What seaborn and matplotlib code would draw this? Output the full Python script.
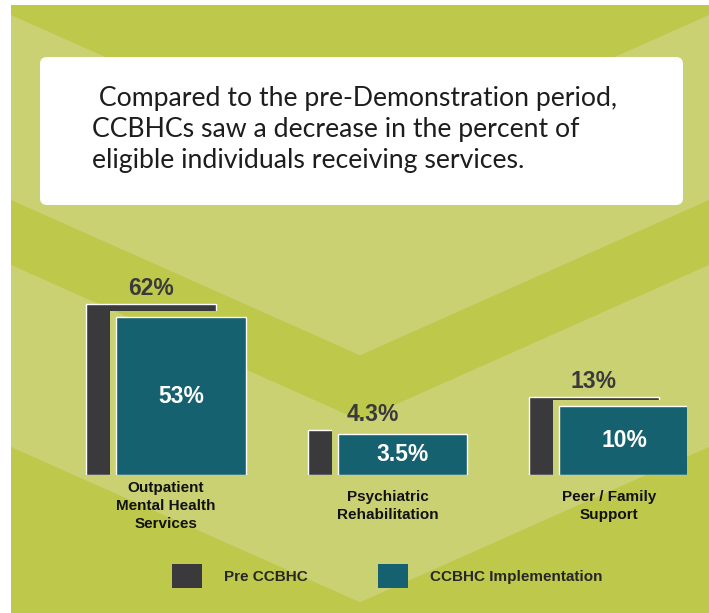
import numpy as np
import pandas as pd
import matplotlib
matplotlib.use("Agg")
import matplotlib.pyplot as plt
import seaborn as sns
from matplotlib.patches import Rectangle, Polygon, FancyBboxPatch, Patch

# ---- data -------------------------------------------------------------
categories = ["Outpatient\nMental Health\nServices",
              "Psychiatric\nRehabilitation",
              "Peer / Family\nSupport"]
pre_ccbhc = [62, 4.3, 13]
ccbhc_impl = [53, 3.5, 10]
pre_labels = ["62%", "4.3%", "13%"]
impl_labels = ["53%", "3.5%", "10%"]
series_names = ["Pre CCBHC", "CCBHC Implementation"]
headline = [" Compared to the pre-Demonstration period,",
            "CCBHCs saw a decrease in the percent of",
            "eligible individuals receiving services."]

# ---- style ------------------------------------------------------------
W, H, DPI = 709, 613, 100
DARK_GREEN = "#BEC84A"
LIGHT_GREEN = "#CAD172"
GRAY = "#3A3A3C"
TEAL = "#16616F"

sns.set_style("white")
plt.rcParams["font.family"] = ["Liberation Sans", "DejaVu Sans"]

fig = plt.figure(figsize=(W / DPI, H / DPI), dpi=DPI)
fig.patch.set_facecolor("white")

# background axes in pixel coordinates (origin top-left)
bg = fig.add_axes([0, 0, 1, 1])
bg.set_xlim(0, W)
bg.set_ylim(H, 0)
bg.axis("off")

PX0, PY0 = 11, 5          # green panel origin
CX = 360                  # chevron apex column
SLOPE = 0.445
HALF = CX - PX0
BANDS = [(15, 200), (265, 447)]   # light chevron bands (edge offsets at the sides)


def paint_background(ax, transform, zorder, clip=None):
    arts = [Rectangle((PX0, PY0), W - PX0, H - PY0, facecolor=DARK_GREEN,
                      edgecolor="none", transform=transform, zorder=zorder)]
    for top, bot in BANDS:
        pts = [(PX0, top), (CX, top + SLOPE * HALF), (W, top),
               (W, bot), (CX, bot + SLOPE * HALF), (PX0, bot)]
        arts.append(Polygon(pts, closed=True, facecolor=LIGHT_GREEN,
                            edgecolor="none", transform=transform, zorder=zorder))
    for a in arts:
        ax.add_patch(a)
        if clip is not None:
            a.set_clip_path(clip)


paint_background(bg, bg.transData, 0)

# headline card
bg.add_patch(FancyBboxPatch((40, 57), 643, 148,
                            boxstyle="round,pad=0,rounding_size=7",
                            facecolor="white", edgecolor="none", zorder=2))
for i, line in enumerate(headline):
    bg.text(92, 106 + 31 * i, line, fontsize=19.2, family=["Lato", "DejaVu Sans"],
            color="#1e1c1d", va="baseline", ha="left", zorder=3)

# ---- bars -------------------------------------------------------------
UNIT = 221.5              # pixels per category step
C0 = 166                  # pixel column of the first category
XMIN, XMAX = -0.5, 2.35
BASE = 475                # baseline row (from top)
YMAX = 100
K = 21.7                  # pixels per sqrt(percent)
ax_h = K * np.sqrt(YMAX)
ax = fig.add_axes([(C0 + XMIN * UNIT) / W, (H - BASE) / H,
                   (XMAX - XMIN) * UNIT / W, ax_h / H])
ax.set_facecolor("none")

BAR_W = 130 / UNIT
OFF = 15 / UNIT

df = pd.DataFrame({"category": categories, "pre": pre_ccbhc, "impl": ccbhc_impl})
sns.barplot(data=df, x="category", y="pre", color=GRAY, saturation=1,
            width=BAR_W, errorbar=None, ax=ax, zorder=1)
gray_bars = list(ax.patches)
for p in gray_bars:
    p.set_x(p.get_x() - OFF)
sns.barplot(data=df, x="category", y="impl", color=TEAL, saturation=1,
            width=BAR_W, errorbar=None, ax=ax, zorder=3)
teal_bars = list(ax.patches)[len(gray_bars):]
for p in teal_bars:
    p.set_x(p.get_x() + OFF)

ax.set_yscale("function", functions=(lambda v: np.sqrt(np.clip(v, 0, None)),
                                     lambda v: np.square(v)))
ax.set_xlim(XMIN, XMAX)
ax.set_ylim(0, YMAX)
ax.set_xlabel("")
ax.set_ylabel("")
ax.set_yticks([])
sns.despine(ax=ax, left=True, bottom=True)
ax.tick_params(axis="x", length=0, pad=22.5)
for t in ax.get_xticklabels():
    t.set_va("center")
    t.set_fontweight("bold")
    t.set_fontsize(11)
    t.set_linespacing(1.36)
    t.set_color("#111111")

# background gap around each teal bar
GAP = 6
for p in teal_bars:
    x0, y0 = ax.transData.transform((p.get_x(), 0))
    x1, y1 = ax.transData.transform((p.get_x() + p.get_width(), p.get_height()))
    left, right = x0 - GAP, x1 + GAP
    top, bottom = H - y1 - GAP, H - y0
    clip = Rectangle((left, top), right - left, bottom - top, transform=bg.transData)
    paint_background(ax, bg.transData, 2, clip=clip)

# value labels
for p, v, lab in zip(teal_bars, ccbhc_impl, impl_labels):
    cx = p.get_x() + p.get_width() / 2
    yb = ax.transData.transform((cx, 0))[1]
    yt = ax.transData.transform((cx, v))[1]
    ymid = ax.transData.inverted().transform((0, (yb + yt) / 2))[1]
    ax.text(cx, ymid, lab, ha="center", va="center", color="white",
            fontsize=16.5, fontweight="bold", zorder=5)
for p, v, lab in zip(gray_bars, pre_ccbhc, pre_labels):
    cx = p.get_x() + p.get_width() / 2
    ax.annotate(lab, xy=(cx, v), xytext=(0, 3), textcoords="offset points",
                ha="center", va="bottom", color=GRAY, fontsize=16.5,
                fontweight="bold", zorder=5, annotation_clip=False)

# legend
handles = [Patch(facecolor=GRAY, edgecolor="none"), Patch(facecolor=TEAL, edgecolor="none")]
fig.legend(handles=handles, labels=series_names, loc="center left",
           bbox_to_anchor=(172 / W, 1 - 576 / H), ncol=2, frameon=False,
           handlelength=1.96, handleheight=1.96, handletextpad=1.44,
           columnspacing=4.6, borderpad=0, borderaxespad=0,
           prop={"weight": "bold", "size": 11})

fig.savefig("out.png", dpi=DPI)
